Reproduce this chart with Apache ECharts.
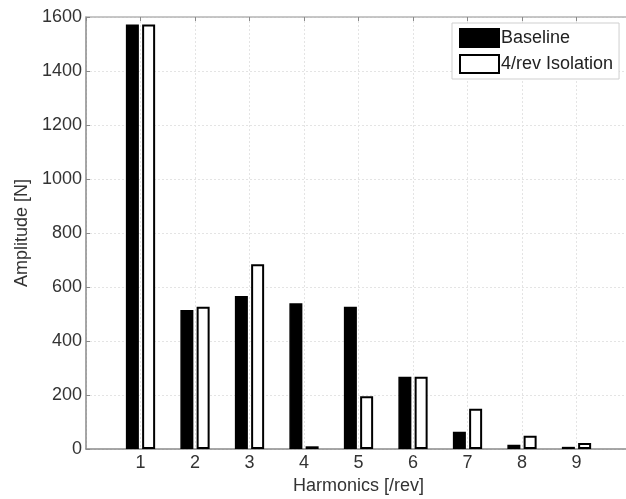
<!DOCTYPE html>
<html>
<head>
<meta charset="utf-8">
<script src="https://cdn.jsdelivr.net/npm/echarts@6/dist/echarts.min.js"></script>
<style>html,body{margin:0;padding:0;background:#fff}#c{width:626px;height:499px}</style>
</head>
<body>
<div id="c"></div>
<script>
var harmonics = [1, 2, 3, 4, 5, 6, 7, 8, 9];
var baseline = [1572, 515, 567, 540, 527, 268, 64, 16, 8];
var isolation = [1572, 527, 684, 10, 195, 268, 149, 49, 22];
var seriesNames = ['Baseline', '4/rev Isolation'];
var yTicks = [0, 200, 400, 600, 800, 1000, 1200, 1400, 1600];

function pairs(vals) { return harmonics.map(function (h, i) { return [h, vals[i]]; }); }

var font = 'Liberation Sans, Arial, sans-serif';
var chart = echarts.init(document.getElementById('c'), null, {renderer: 'canvas'});
chart.setOption({
  animation: false,
  backgroundColor: '#fff',
  grid: {left: 86, top: 17, width: 545, height: 432, show: false, containLabel: false, outerBoundsMode: 'none'},
  legend: {
    left: 452, top: 23, orient: 'vertical',
    itemWidth: 39, itemHeight: 18, itemGap: 6,
    padding: [5, 6, 5, 7],
    borderColor: '#cfcfcf', borderWidth: 1, backgroundColor: '#fff',
    textStyle: {fontFamily: font, fontSize: 18, color: '#222', padding: [0, 0, 0, -3]},
    data: [{name: seriesNames[0], icon: 'rect'}, {name: seriesNames[1], icon: 'rect'}]
  },
  xAxis: [{
    type: 'value', min: 0, max: 10, interval: 1,
    position: 'bottom',
    name: 'Harmonics [/rev]', nameLocation: 'middle', nameGap: 27,
    nameTextStyle: {fontFamily: font, fontSize: 18, color: '#333'},
    axisLine: {show: true, lineStyle: {color: '#8a8a8a', width: 1.5}},
    axisTick: {show: false},
    axisLabel: {fontFamily: font, fontSize: 18, color: '#333', margin: 5,
      formatter: function (v) { return harmonics.indexOf(v) >= 0 ? String(v) : ''; }},
    splitLine: {show: true, lineStyle: {color: '#e4e4e4', type: [2, 2], width: 1}}
  }, {
    type: 'value', min: 0, max: 10, interval: 1,
    position: 'top',
    axisLine: {show: true, lineStyle: {color: '#b5b5b5', width: 1.5}},
    axisTick: {show: true, inside: true, length: 4, lineStyle: {color: '#8a8a8a'}},
    axisLabel: {show: false},
    splitLine: {show: false}
  }],
  yAxis: {
    type: 'value', min: 0, max: 1600, interval: 200,
    name: 'Amplitude [N]', nameLocation: 'middle', nameGap: 55,
    nameTextStyle: {fontFamily: font, fontSize: 18, color: '#333'},
    axisLine: {show: true, lineStyle: {color: '#8a8a8a', width: 1.5}},
    axisTick: {show: true, inside: true, length: 4, lineStyle: {color: '#8a8a8a'}},
    axisLabel: {fontFamily: font, fontSize: 18, color: '#333', margin: 4,
      formatter: function (v) { return yTicks.indexOf(v) >= 0 ? String(v) : ''; }},
    splitLine: {show: true, lineStyle: {color: '#e4e4e4', type: [2, 2], width: 1}}
  },
  series: [{
    name: seriesNames[0], type: 'bar', xAxisIndex: 0,
    data: pairs(baseline), barWidth: 13, barGap: '25%',
    itemStyle: {color: '#000', borderColor: '#000', borderWidth: 1.5}
  }, {
    name: seriesNames[1], type: 'bar', xAxisIndex: 0,
    data: pairs(isolation), barWidth: 13, barGap: '25%',
    itemStyle: {color: '#fff', borderColor: '#000', borderWidth: 2}
  }]
});
</script>
</body>
</html>
